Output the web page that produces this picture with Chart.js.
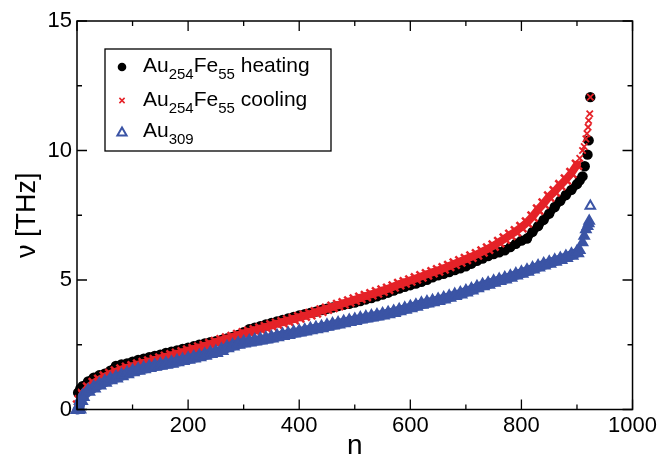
<!DOCTYPE html>
<html>
<head>
<meta charset="utf-8">
<script src="https://cdn.jsdelivr.net/npm/chart.js@4/dist/chart.umd.min.js"></script>
<style>
  html, body { margin: 0; padding: 0; background: #fff; }
  #wrap { width: 660px; height: 456px; }
</style>
</head>
<body>
<div id="wrap"><canvas id="chart"></canvas></div>
<script>
// series names (digits are drawn as subscripts in the legend)
const seriesNames = ["Au254Fe55 heating", "Au254Fe55 cooling", "Au309"];

// mode index n shared by the body of all three spectra
const nBody = [10, 20, 30, 40, 50, 60, 70, 80, 90, 100,
  110, 120, 130, 140, 150, 160, 170, 180, 190, 200,
  210, 220, 230, 240, 250, 260, 270, 280, 290, 300,
  310, 320, 330, 340, 350, 360, 370, 380, 390, 400,
  410, 420, 430, 440, 450, 460, 470, 480, 490, 500,
  510, 520, 530, 540, 550, 560, 570, 580, 590, 600,
  610, 620, 630, 640, 650, 660, 670, 680, 690, 700,
  710, 720, 730, 740, 750, 760, 770, 780, 790, 800,
  810, 820, 830, 840, 850, 860, 870, 880, 890, 900];

// Au254Fe55 heating (THz)
const heatHeadN = [2, 6];
const heatHeadV = [0.65, 0.8];
const heatV = [0.9, 1.08, 1.23, 1.32, 1.38, 1.5, 1.68, 1.74, 1.78, 1.85,
  1.91, 1.96, 2.02, 2.07, 2.12, 2.18, 2.23, 2.28, 2.34, 2.39,
  2.44, 2.5, 2.55, 2.6, 2.64, 2.69, 2.74, 2.8, 2.88, 2.98,
  3.1, 3.16, 3.22, 3.28, 3.34, 3.4, 3.46, 3.52, 3.57, 3.63,
  3.68, 3.73, 3.78, 3.84, 3.89, 3.94, 3.99, 4.04, 4.08, 4.13,
  4.19, 4.25, 4.3, 4.37, 4.44, 4.51, 4.59, 4.67, 4.74, 4.8,
  4.86, 4.93, 5.01, 5.1, 5.18, 5.24, 5.31, 5.38, 5.45, 5.53,
  5.63, 5.74, 5.83, 5.92, 6.0, 6.07, 6.15, 6.27, 6.4, 6.52,
  6.6, 6.86, 7.08, 7.32, 7.56, 7.82, 8.06, 8.28, 8.48, 8.7];
const heatTailN = [905, 910, 914, 919, 921, 924];
const heatTailV = [8.85, 9.0, 9.39, 9.84, 10.39, 12.06];

// Au254Fe55 cooling (THz)
const coolHeadN = [2, 5];
const coolHeadV = [0.15, 0.35];
const coolV = [0.6, 0.85, 1.02, 1.15, 1.27, 1.37, 1.46, 1.54, 1.61, 1.67,
  1.73, 1.79, 1.85, 1.91, 1.97, 2.03, 2.09, 2.15, 2.21, 2.27,
  2.33, 2.39, 2.45, 2.53, 2.6, 2.67, 2.74, 2.8, 2.87, 2.94,
  3.0, 3.06, 3.12, 3.18, 3.25, 3.31, 3.37, 3.43, 3.49, 3.56,
  3.62, 3.68, 3.75, 3.82, 3.89, 3.96, 4.03, 4.1, 4.17, 4.24,
  4.31, 4.38, 4.45, 4.52, 4.59, 4.66, 4.75, 4.84, 4.91, 4.98,
  5.06, 5.14, 5.22, 5.3, 5.37, 5.45, 5.54, 5.63, 5.72, 5.81,
  5.9, 5.99, 6.1, 6.21, 6.33, 6.46, 6.6, 6.74, 6.88, 7.04,
  7.22, 7.45, 7.72, 7.95, 8.22, 8.42, 8.66, 8.88, 9.13, 9.45];
const coolTailN = [905, 910, 913, 916, 918, 920, 921, 923, 924];
const coolTailV = [9.7, 10.0, 10.15, 10.45, 10.65, 10.9, 11.16, 11.42, 12.06];

// Au309 (THz)
const auHeadN = [1, 4, 7];
const auHeadV = [0, 0.02, 0.35];
const auV = [0.5, 0.7, 0.83, 0.95, 1.05, 1.15, 1.22, 1.3, 1.38, 1.46,
  1.52, 1.57, 1.62, 1.67, 1.71, 1.75, 1.79, 1.84, 1.89, 1.94,
  1.99, 2.04, 2.09, 2.16, 2.2, 2.28, 2.38, 2.45, 2.52, 2.57,
  2.61, 2.64, 2.68, 2.72, 2.76, 2.81, 2.86, 2.9, 2.95, 2.99,
  3.03, 3.08, 3.12, 3.16, 3.21, 3.26, 3.3, 3.35, 3.4, 3.44,
  3.49, 3.53, 3.57, 3.61, 3.65, 3.7, 3.75, 3.81, 3.87, 3.93,
  3.99, 4.06, 4.11, 4.16, 4.21, 4.27, 4.33, 4.4, 4.46, 4.54,
  4.61, 4.7, 4.78, 4.84, 4.91, 4.98, 5.04, 5.11, 5.19, 5.26,
  5.34, 5.42, 5.5, 5.58, 5.65, 5.72, 5.79, 5.87, 5.96, 6.05];
const auTailN = [905, 910, 913, 916, 919, 921, 922, 924];
const auTailV = [6.15, 6.45, 6.7, 6.95, 7.08, 7.18, 7.28, 7.86];

const RED = "#e52228";
const BLUE = "#3b54a5";
const FONT = '"Liberation Sans", Arial, Helvetica, sans-serif';

function toPoints(ns, vs) {
  return ns.map((n, i) => ({ x: n, y: vs[i] }));
}

const heating = toPoints([...heatHeadN, ...nBody, ...heatTailN], [...heatHeadV, ...heatV, ...heatTailV]);
const cooling = toPoints([...coolHeadN, ...nBody, ...coolTailN], [...coolHeadV, ...coolV, ...coolTailV]);
const au309 = toPoints([...auHeadN, ...nBody, ...auTailN], [...auHeadV, ...auV, ...auTailV]);

// the steep tail (n > 900) is sparse, so its markers stand alone;
// the dense body reads as a solid band, drawn as a thick line under the markers
const inTail = (c) => c.raw && c.raw.x > 900;
const bandSegment = { borderColor: (s) => (s.p1.parsed.x > 900 ? "rgba(0,0,0,0)" : undefined) };

// text with digits as subscripts
function drawSubText(ctx, text, x, y) {
  const parts = text.split(/(\d+)/).filter((p) => p.length);
  for (const p of parts) {
    const sub = /^\d+$/.test(p);
    ctx.font = (sub ? "15px " : "21px ") + FONT;
    ctx.fillText(p, x, sub ? y + 7 : y);
    x += ctx.measureText(p).width;
  }
}

function drawMarker(ctx, kind, x, y) {
  ctx.beginPath();
  if (kind === 0) {
    ctx.fillStyle = "#000";
    ctx.arc(x, y, 4.3, 0, Math.PI * 2);
    ctx.fill();
  } else if (kind === 1) {
    ctx.strokeStyle = RED;
    ctx.lineWidth = 1.5;
    ctx.moveTo(x - 2.6, y - 2.6); ctx.lineTo(x + 2.6, y + 2.6);
    ctx.moveTo(x + 2.6, y - 2.6); ctx.lineTo(x - 2.6, y + 2.6);
    ctx.stroke();
  } else {
    ctx.strokeStyle = BLUE;
    ctx.lineWidth = 2;
    ctx.moveTo(x, y - 4.5); ctx.lineTo(x + 4.6, y + 3.5); ctx.lineTo(x - 4.6, y + 3.5);
    ctx.closePath();
    ctx.stroke();
  }
}

// frame, inward ticks and the boxed legend (grace style)
const framePlugin = {
  id: "frame",
  afterDraw(chart) {
    const { ctx, chartArea: a, scales } = chart;
    ctx.save();
    ctx.strokeStyle = "#000";
    ctx.lineWidth = 1.5;
    ctx.strokeRect(a.left, a.top, a.right - a.left, a.bottom - a.top);

    ctx.lineWidth = 1.3;
    ctx.beginPath();
    scales.x.ticks.forEach((t) => {
      const px = scales.x.getPixelForValue(t.value);
      const len = t.value % 200 === 0 ? 10 : 5;
      ctx.moveTo(px, a.bottom); ctx.lineTo(px, a.bottom - len);
      ctx.moveTo(px, a.top); ctx.lineTo(px, a.top + len);
    });
    scales.y.ticks.forEach((t) => {
      const py = scales.y.getPixelForValue(t.value);
      const len = t.value % 5 === 0 ? 10 : 5;
      ctx.moveTo(a.left, py); ctx.lineTo(a.left + len, py);
      ctx.moveTo(a.right, py); ctx.lineTo(a.right - len, py);
    });
    ctx.stroke();

    // legend
    const bx = a.left + 28, by = a.top + 28, bw = 226, bh = 102;
    ctx.fillStyle = "#fff";
    ctx.fillRect(bx, by, bw, bh);
    ctx.lineWidth = 1.3;
    ctx.strokeStyle = "#000";
    ctx.strokeRect(bx, by, bw, bh);
    const rows = [18, 51.5, 83];
    seriesNames.forEach((name, i) => {
      drawMarker(ctx, i, bx + 17, by + rows[i]);
      ctx.fillStyle = "#000";
      ctx.textBaseline = "alphabetic";
      ctx.textAlign = "left";
      drawSubText(ctx, name, bx + 38, by + rows[i] + 5);
    });
    ctx.restore();
  }
};

const ctx = document.getElementById("chart").getContext("2d");
new Chart(ctx, {
  type: "scatter",
  data: {
    datasets: [
      {
        label: seriesNames[2],
        data: au309,
        order: 0,
        clip: false,
        showLine: true,
        borderColor: BLUE,
        borderWidth: 10,
        borderCapStyle: "round",
        borderJoinStyle: "round",
        segment: bandSegment,
        pointStyle: "triangle",
        pointRadius: (c) => (inTail(c) ? 5.5 : 7.5),
        pointBorderWidth: (c) => (inTail(c) ? 2 : 1.5),
        pointBorderColor: BLUE,
        pointBackgroundColor: (c) => (c.dataIndex === au309.length - 1 ? "#fff" : BLUE),
      },
      {
        label: seriesNames[1],
        data: cooling,
        order: 1,
        clip: false,
        showLine: true,
        borderColor: RED,
        borderWidth: 8,
        borderCapStyle: "round",
        borderJoinStyle: "round",
        segment: bandSegment,
        pointStyle: "crossRot",
        pointRadius: (c) => (inTail(c) ? 4.5 : 7),
        pointBorderWidth: (c) => (inTail(c) ? 1.8 : 2.5),
        pointBorderColor: RED,
        pointBackgroundColor: RED,
      },
      {
        label: seriesNames[0],
        data: heating,
        order: 2,
        clip: false,
        showLine: true,
        borderColor: "#000",
        borderWidth: 8,
        borderCapStyle: "round",
        borderJoinStyle: "round",
        segment: bandSegment,
        pointStyle: "circle",
        pointRadius: 5.2,
        pointBorderWidth: 0,
        pointBackgroundColor: "#000",
      },
    ],
  },
  options: {
    responsive: true,
    maintainAspectRatio: false,
    animation: false,
    events: [],
    layout: { padding: { top: 21, right: 26, left: 0, bottom: 0 } },
    plugins: {
      legend: { display: false },
      tooltip: { enabled: false },
    },
    scales: {
      x: {
        type: "linear",
        min: 0,
        max: 1000,
        afterFit: (s) => { s.height = 46.5; },
        grid: { display: false, drawTicks: false },
        border: { display: false },
        ticks: {
          stepSize: 100,
          padding: 3,
          maxRotation: 0,
          autoSkip: false,
          color: "#000",
          font: { family: FONT, size: 22 },
          callback: (v) => (v % 200 === 0 && v !== 0 ? v : ""),
        },
        title: {
          display: true,
          text: "n",
          color: "#000",
          padding: 0,
          font: { family: FONT, size: 28, lineHeight: 0.72 },
        },
      },
      y: {
        min: 0,
        max: 15,
        afterFit: (s) => { s.width = 77; },
        grid: { display: false, drawTicks: false },
        border: { display: false },
        ticks: {
          stepSize: 2.5,
          padding: 5,
          autoSkip: false,
          color: "#000",
          font: { family: FONT, size: 22 },
          callback: (v) => (v % 5 === 0 ? v : ""),
        },
        title: {
          display: true,
          text: "ν [THz]",
          color: "#000",
          padding: { top: 14, bottom: 0 },
          font: { family: FONT, size: 27, lineHeight: 1 },
        },
      },
    },
  },
  plugins: [framePlugin],
});
</script>
</body>
</html>
